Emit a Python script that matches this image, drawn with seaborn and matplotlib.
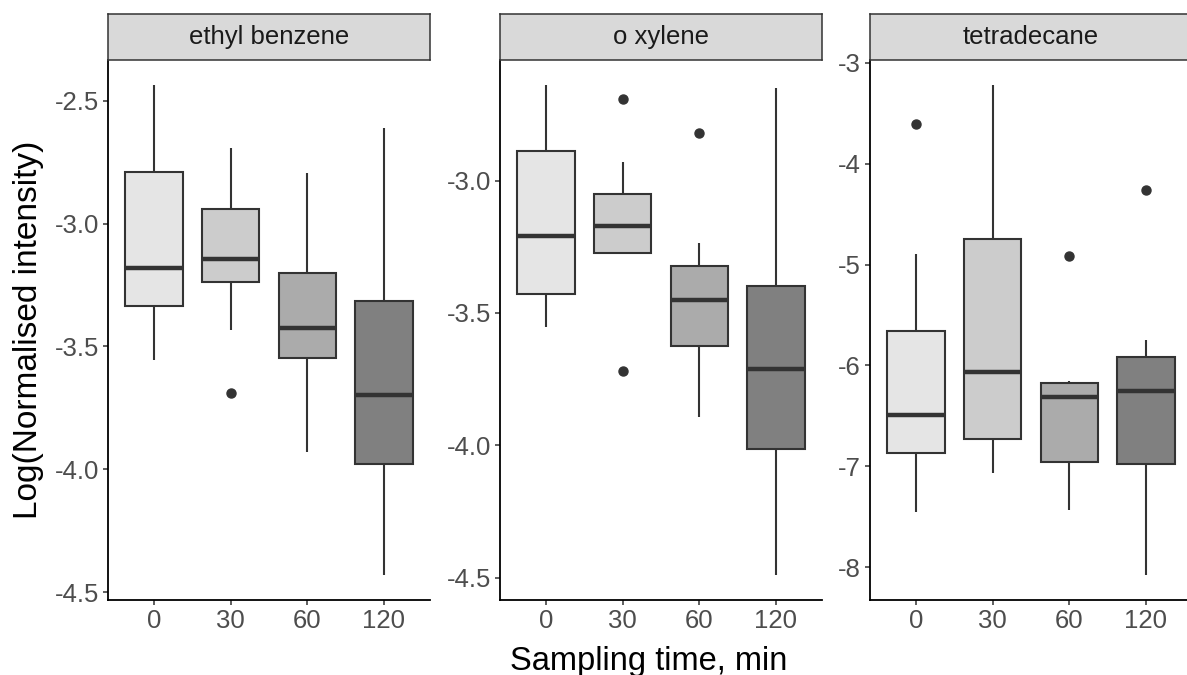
import numpy as np
import pandas as pd
import matplotlib
matplotlib.use("Agg")
import matplotlib.pyplot as plt
import seaborn as sns

# Facet titles, sampling times and box fills
compounds = ["ethyl benzene", "o xylene", "tetradecane"]
times = ["0", "30", "60", "120"]
box_fills = ["#E5E5E5", "#CCCCCC", "#ABABAB", "#808080"]

# Log(normalised intensity) per sampling time, one list per time point
ethyl_benzene = [
    [-3.557, -3.45, -3.337, -3.25, -3.179, -3.00, -2.789, -2.60, -2.435],
    [-3.690, -3.435, -3.236, -3.19, -3.146, -3.04, -2.939, -2.80, -2.695],
    [-3.931, -3.70, -3.545, -3.48, -3.423, -3.30, -3.203, -3.00, -2.793],
    [-4.431, -4.20, -3.976, -3.85, -3.699, -3.50, -3.317, -2.95, -2.610],
]
o_xylene = [
    [-3.552, -3.50, -3.427, -3.30, -3.208, -3.05, -2.890, -2.75, -2.637],
    [-3.718, -3.272, -3.272, -3.22, -3.170, -3.11, -3.049, -2.928, -2.690],
    [-3.895, -3.75, -3.625, -3.53, -3.450, -3.38, -3.323, -3.234, -2.819],
    [-4.492, -4.25, -4.016, -3.85, -3.710, -3.55, -3.397, -3.00, -2.649],
]
tetradecane = [
    [-7.455, -7.10, -6.871, -6.70, -6.495, -6.10, -5.663, -4.891, -3.604],
    [-7.069, -6.90, -6.723, -6.40, -6.069, -5.40, -4.752, -4.00, -3.218],
    [-7.426, -7.20, -6.960, -6.60, -6.307, -6.25, -6.178, -6.149, -4.911],
    [-8.079, -7.50, -6.980, -6.60, -6.257, -6.10, -5.911, -5.752, -4.267],
]
y_ticks = [
    [-4.5, -4.0, -3.5, -3.0, -2.5],
    [-4.5, -4.0, -3.5, -3.0],
    [-8, -7, -6, -5, -4, -3],
]
tick_formats = ["{:.1f}", "{:.1f}", "{:.0f}"]
series = [ethyl_benzene, o_xylene, tetradecane]

sns.set_theme(style="ticks")
plt.rcParams["font.family"] = ["Liberation Sans", "DejaVu Sans"]
plt.rcParams["axes.unicode_minus"] = False

W, H = 1187, 675
fig = plt.figure(figsize=(W / 100, H / 100), dpi=100)
panel_left = [108, 500, 870]
panel_w = 322
top, bottom = 60, 600
strip_h = 46
dark = "#333333"

for name, values, ticks, fmt, x0 in zip(compounds, series, y_ticks, tick_formats, panel_left):
    ax = fig.add_axes([x0 / W, (H - bottom) / H, panel_w / W, (bottom - top) / H])
    df = pd.DataFrame({
        "time": np.repeat(times, [len(v) for v in values]),
        "value": np.concatenate(values),
    })
    sns.boxplot(
        data=df, x="time", y="value", hue="time", order=times, hue_order=times,
        palette=box_fills, saturation=1, legend=False, width=0.75,
        linewidth=1.5, linecolor=dark, fliersize=6.5, whis=1.5, ax=ax,
        showcaps=False,
        medianprops=dict(linewidth=3.2, color=dark),
        flierprops=dict(marker="o", markerfacecolor=dark, markeredgecolor=dark),
    )
    lo, hi = df["value"].min(), df["value"].max()
    pad = (hi - lo) * 0.05
    ax.set_ylim(lo - pad, hi + pad)
    ax.set_xlim(-0.6, 3.6)
    ax.set_yticks(ticks)
    ax.set_yticklabels([fmt.format(t) for t in ticks])
    ax.set_xlabel("")
    ax.set_ylabel("")
    for side in ["top", "right"]:
        ax.spines[side].set_visible(False)
    for side in ["left", "bottom"]:
        ax.spines[side].set_color("black")
        ax.spines[side].set_linewidth(1.3)
    ax.tick_params(axis="both", length=3.6, width=1.1, color=dark,
                   labelsize=18.5, labelcolor="#4D4D4D", pad=3)
    ax.set_facecolor("white")

    strip = fig.add_axes([x0 / W, (H - top) / H, panel_w / W, strip_h / H])
    strip.set_facecolor("#D9D9D9")
    strip.set_xticks([])
    strip.set_yticks([])
    for sp in strip.spines.values():
        sp.set_color(dark)
        sp.set_linewidth(1.1)
    strip.text(0.5, 0.5, name, ha="center", va="center", fontsize=18.5,
               color="#1A1A1A", transform=strip.transAxes)

fig.text(29 / W, 1 - 330 / H, "Log(Normalised intensity)", rotation=90,
         ha="center", va="center", fontsize=24, color="black")
fig.text(649 / W, 1 - 670 / H, "Sampling time, min", ha="center", va="baseline",
         fontsize=23.5, color="black")

fig.savefig("out.png", dpi=100, facecolor="white")
